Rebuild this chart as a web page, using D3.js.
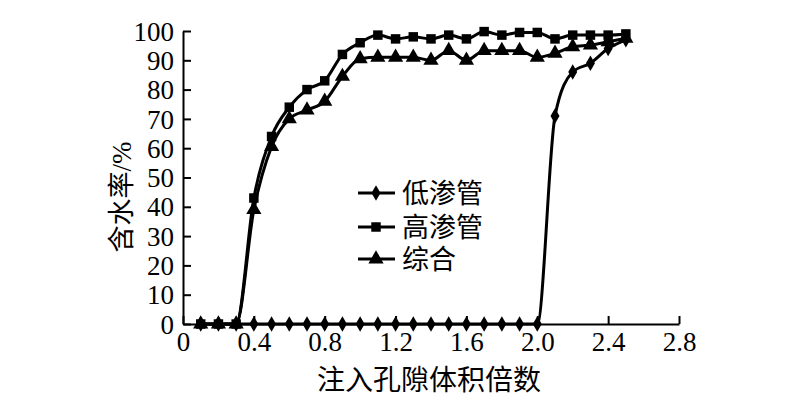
<!DOCTYPE html>
<html>
<head>
<meta charset="utf-8">
<script src="https://cdn.jsdelivr.net/npm/d3@7"></script>
<style>
  body { margin: 0; background: #fff; }
  svg { display: block; }
  text { font-family: "Liberation Serif", "Noto Sans CJK SC", serif; fill: #000; }
</style>
</head>
<body>
<svg id="chart" width="800" height="400"></svg>
<script>
// --- Data ---

const PV = [0.1, 0.2, 0.3, 0.4, 0.5, 0.6, 0.7, 0.8, 0.9, 1.0, 1.1, 1.2, 1.3,
  1.4, 1.5, 1.6, 1.7, 1.8, 1.9, 2.0, 2.1, 2.2, 2.3, 2.4, 2.5];

const LOW = [0, 0, 0, 0, 0, 0, 0, 0, 0, 0, 0, 0, 0,
  0, 0, 0, 0, 0, 0, 0, 71, 86, 89, 94, 97];

const HIGH = [0, 0, 0, 43, 64, 74, 80, 83, 92, 96, 98.6, 97.3, 98,
  97.3, 98.6, 97.3, 99.8, 98.6, 99.5, 99.5, 97.3, 98.6, 98.6, 98.6, 99];

const MIX = [0, 0, 0, 39, 60.5, 70, 73, 76, 84.5, 90.5, 91, 91, 91,
  90, 93.3, 90, 93.3, 93.3, 93.3, 91, 92.4, 94.6, 95.2, 96.3, 97.5];

const X_TICKS = [0, 0.4, 0.8, 1.2, 1.6, 2.0, 2.4, 2.8];
const Y_TICKS = [0, 10, 20, 30, 40, 50, 60, 70, 80, 90, 100];

const SERIES = [
  { name: "综合", values: MIX, symbol: d3.symbolTriangle, size: 100, legend: 2 },
  { name: "低渗管", values: LOW, symbol: d3.symbolDiamond, size: 70, legend: 0 },
  { name: "高渗管", values: HIGH, symbol: d3.symbolSquare, size: 90, legend: 1 },
];

// --- Scales ---

const x = d3.scaleLinear().domain([0, 2.8]).range([183, 679]);
const y = d3.scaleLinear().domain([0, 100]).range([324, 31]);

const svg = d3.select("#chart");

// --- Axes ---

const xAxis = svg.append("g")
  .attr("transform", `translate(0,${y(0)})`)
  .call(d3.axisBottom(x).tickValues(X_TICKS).tickSizeInner(-8).tickSizeOuter(0)
    .tickPadding(8).tickFormat((d) => (d === 0 ? "0" : d3.format(".1f")(d))));

const yAxis = svg.append("g")
  .attr("transform", `translate(${x(0)},0)`)
  .call(d3.axisLeft(y).tickValues(Y_TICKS).tickSizeInner(-8).tickSizeOuter(0)
    .tickPadding(9));

for (const ax of [xAxis, yAxis]) {
  ax.select(".domain").attr("stroke", "#000").attr("stroke-width", 2);
  ax.selectAll(".tick line").attr("stroke", "#000").attr("stroke-width", 2);
  ax.selectAll(".tick text")
    .attr("font-size", 27)
    .style("font-family", '"Liberation Serif", serif');
}
yAxis.selectAll(".tick text").attr("dy", "0.34em");

svg.append("text")
  .attr("x", 429)
  .attr("y", 390)
  .attr("text-anchor", "middle")
  .attr("font-size", 28)
  .text("注入孔隙体积倍数");

svg.append("text")
  .attr("transform", "translate(131,197) rotate(-90)")
  .attr("text-anchor", "middle")
  .attr("font-size", 27)
  .text("含水率/%");

// --- Lines ---

const line = d3.line()
  .x((d) => x(d[0]))
  .y((d) => y(d[1]))
  .curve(d3.curveMonotoneX);

for (const s of SERIES) {
  const pts = PV.map((v, i) => [v, s.values[i]]);
  svg.append("path")
    .datum(pts)
    .attr("fill", "none")
    .attr("stroke", "#000")
    .attr("stroke-width", 3)
    .attr("d", line);

  svg.append("g")
    .selectAll("path")
    .data(pts)
    .join("path")
    .attr("transform", (d) => `translate(${x(d[0])},${y(d[1])})`)
    .attr("d", d3.symbol().type(s.symbol).size(s.size))
    .attr("fill", "#000");
}

// --- Legend ---

const legendRows = [193, 227, 259];
const legend = svg.append("g");
for (const s of SERIES) {
  const ly = legendRows[s.legend];
  legend.append("line")
    .attr("x1", 358).attr("x2", 395)
    .attr("y1", ly).attr("y2", ly)
    .attr("stroke", "#000").attr("stroke-width", 3);
  legend.append("path")
    .attr("transform", `translate(376,${ly})`)
    .attr("d", d3.symbol().type(s.symbol).size(s.size))
    .attr("fill", "#000");
  legend.append("text")
    .attr("x", 402)
    .attr("y", ly)
    .attr("dy", "0.36em")
    .attr("font-size", 27)
    .text(s.name);
}
</script>
</body>
</html>
